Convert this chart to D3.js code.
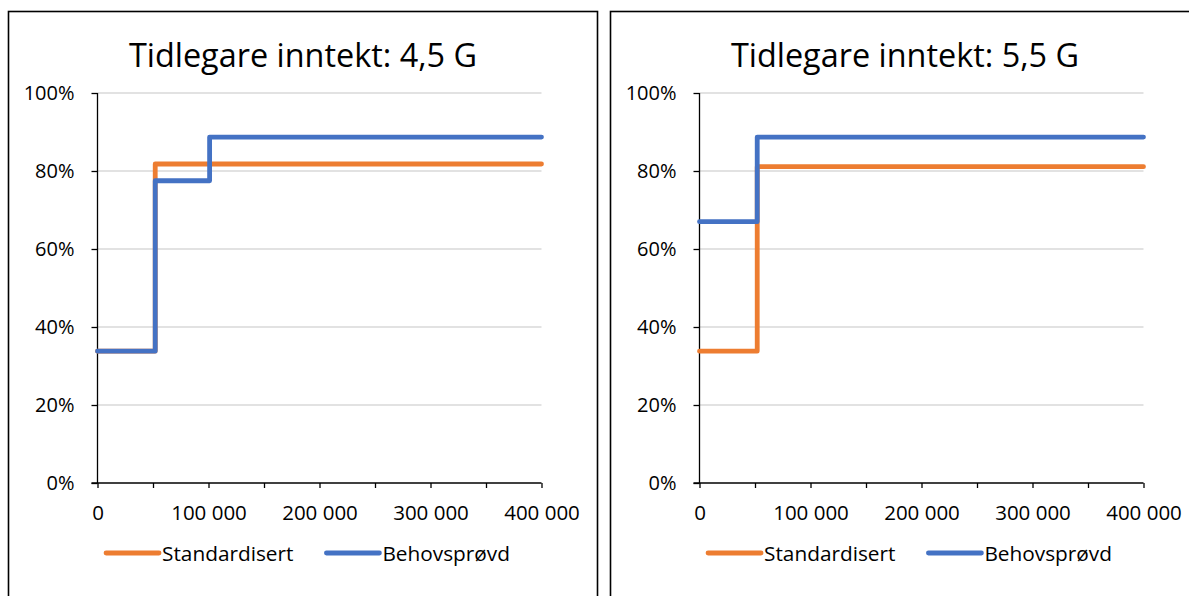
<!DOCTYPE html>
<html>
<head>
<meta charset="utf-8">
<script src="https://cdn.jsdelivr.net/npm/d3@7"></script>
<style>
  body { margin: 0; background: #fff; }
  svg { display: block; font-family: "Open Sans", sans-serif; }
</style>
</head>
<body>
<svg id="chart" width="1189" height="596"></svg>
<script>
// chart data
var titles = ["Tidlegare inntekt: 4,5 G", "Tidlegare inntekt: 5,5 G"];
var seriesNames = ["Standardisert", "Behovsprøvd"];
var seriesColors = ["#ED7D31", "#4472C4"];

// left panel (4,5 G)
var leftStdX = [0, 52000, 400000];
var leftStdY = [0.338, 0.818, 0.818];
var leftBehX = [0, 52000, 101000, 400000];
var leftBehY = [0.338, 0.775, 0.887, 0.887];

// right panel (5,5 G)
var rightStdX = [0, 52000, 400000];
var rightStdY = [0.338, 0.811, 0.811];
var rightBehX = [0, 52000, 400000];
var rightBehY = [0.670, 0.887, 0.887];

var xTicks = [0, 50000, 100000, 150000, 200000, 250000, 300000, 350000, 400000];
var xLabelTicks = [0, 100000, 200000, 300000, 400000];
var yTicks = [0, 0.2, 0.4, 0.6, 0.8, 1.0];

var panels = [
  { x0: 8.5, title: titles[0], series: [[leftStdX, leftStdY], [leftBehX, leftBehY]] },
  { x0: 610.5, title: titles[1], series: [[rightStdX, rightStdY], [rightBehX, rightBehY]] }
];

var svg = d3.select("#chart");
var panelW = 589, panelTop = 11.5;
var plot = { left: 89, width: 444, top: 93, height: 390 };

function fmtX(d) {
  return d3.format(",")(d).replace(/,/g, " ");
}

panels.forEach(function (p) {
  var g = svg.append("g").attr("transform", "translate(" + p.x0 + ",0)");

  g.append("rect")
    .attr("x", 0).attr("y", panelTop)
    .attr("width", panelW).attr("height", 700)
    .attr("fill", "none")
    .attr("stroke", "#000")
    .attr("stroke-width", 1.6);

  g.append("text")
    .attr("x", panelW / 2).attr("y", 67)
    .attr("text-anchor", "middle")
    .attr("font-size", 32.4)
    .attr("fill", "#000")
    .text(p.title);

  var x = d3.scaleLinear().domain([0, 400000]).range([plot.left, plot.left + plot.width]);
  var y = d3.scaleLinear().domain([0, 1]).range([plot.top + plot.height, plot.top]);

  // gridlines
  g.append("g")
    .selectAll("line")
    .data(yTicks.filter(function (d) { return d > 0; }))
    .enter().append("line")
    .attr("x1", x(0)).attr("x2", x(400000))
    .attr("y1", function (d) { return y(d); })
    .attr("y2", function (d) { return y(d); })
    .attr("stroke", "#d9d9d9")
    .attr("stroke-width", 1.5);

  // y axis
  var yAxis = g.append("g")
    .attr("transform", "translate(" + x(0) + ",0)")
    .call(d3.axisLeft(y).tickValues(yTicks).tickSize(6).tickPadding(17)
      .tickFormat(function (d) { return Math.round(d * 100) + "%"; }));
  yAxis.select(".domain").attr("stroke", "#000").attr("stroke-width", 1.3)
    .attr("d", "M0," + y(1) + "V" + y(0));
  yAxis.selectAll(".tick line").attr("stroke", "#000").attr("stroke-width", 1.3);
  yAxis.selectAll(".tick text")
    .attr("font-size", 20).attr("fill", "#000")
    .attr("font-family", "'Open Sans', sans-serif");

  // x axis
  var xAxis = g.append("g")
    .attr("transform", "translate(0," + y(0) + ")")
    .call(d3.axisBottom(x).tickValues(xTicks).tickSize(5).tickPadding(17)
      .tickFormat(function (d) { return xLabelTicks.indexOf(d) >= 0 ? fmtX(d) : ""; }));
  xAxis.select(".domain").attr("stroke", "#000").attr("stroke-width", 1.3)
    .attr("d", "M" + (x(0) - 6) + ",0H" + x(400000));
  xAxis.selectAll(".tick line").attr("stroke", "#000").attr("stroke-width", 1.3);
  xAxis.selectAll(".tick text")
    .attr("font-size", 20.5).attr("fill", "#000")
    .attr("font-family", "'Open Sans', sans-serif");

  // step lines
  var line = d3.line()
    .x(function (d) { return x(d[0]); })
    .y(function (d) { return y(d[1]); })
    .curve(d3.curveStepAfter);

  p.series.forEach(function (s, i) {
    var pts = d3.zip(s[0], s[1]);
    g.append("path")
      .datum(pts)
      .attr("d", line)
      .attr("fill", "none")
      .attr("stroke", seriesColors[i])
      .attr("stroke-width", 4.8)
      .attr("stroke-linejoin", "round")
      .attr("stroke-linecap", "round");
  });

  // legend
  var lg = g.append("g").attr("class", "legend");
  var items = lg.selectAll("g").data(seriesNames).enter().append("g");
  items.append("line")
    .attr("x1", 0).attr("x2", 53)
    .attr("y1", 0).attr("y2", 0)
    .attr("stroke", function (d, i) { return seriesColors[i]; })
    .attr("stroke-width", 4.8)
    .attr("stroke-linecap", "round");
  items.append("text")
    .attr("x", 56).attr("y", 7.5)
    .attr("font-size", 20.8)
    .attr("fill", "#000")
    .text(function (d) { return d; });
  var gap = 33;
  var offs = 0;
  var starts = [];
  items.each(function () {
    starts.push(offs);
    offs += this.getBBox().width + gap;
  });
  var total = offs - gap;
  var lx = panelW / 2 - total / 2 + 5;
  items.attr("transform", function (d, i) { return "translate(" + (lx + starts[i]) + ",553)"; });
});
</script>
</body>
</html>
